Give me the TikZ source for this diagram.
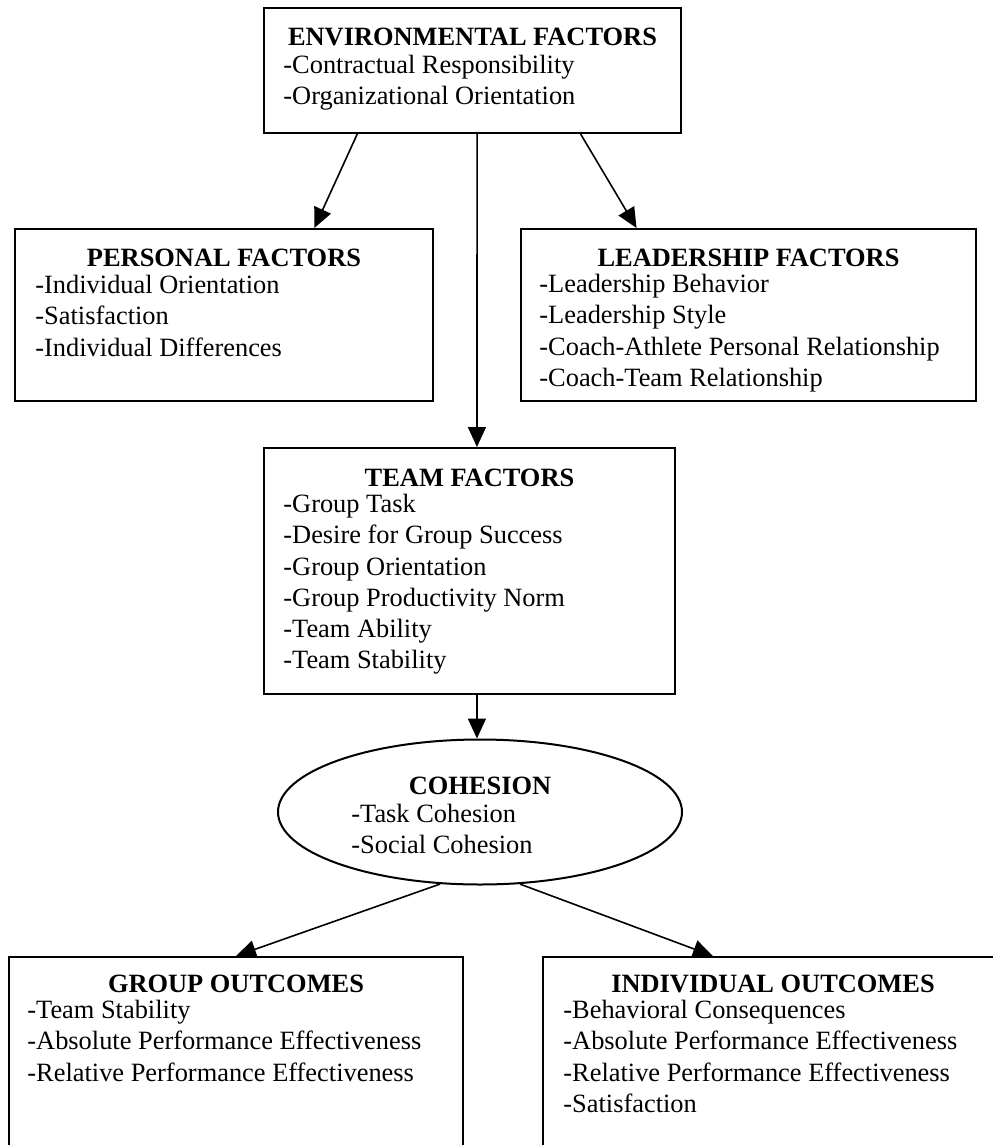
\documentclass[tikz,border=0pt]{standalone}
\usepackage{fontspec}
\setmainfont{Liberation Serif}
\usetikzlibrary{shapes.geometric,arrows.meta,calc}

\begin{document}
\begin{tikzpicture}[x=0.5pt,y=-0.5pt,
    font=\fontsize{13.2}{15.6}\selectfont,
    factor/.style={draw,line width=1pt,rectangle,anchor=north west,inner sep=0pt},
    heading/.style={font=\fontsize{13.2}{15.6}\selectfont\bfseries,anchor=base,inner sep=0pt},
    items/.style={align=left,anchor=north west,inner sep=0pt,execute at begin node=\strut},
    link/.style={-{Triangle[length=10pt,width=9pt]},line width=0.8pt}]
    \useasboundingbox (0,0) rectangle (992,1145);

    % boxes
    \node[factor,minimum width=208.5pt,minimum height=62.5pt] (env) at (263,7) {};
    \node[factor,minimum width=209pt,minimum height=86pt] (pers) at (14,228) {};
    \node[factor,minimum width=227.5pt,minimum height=86pt] (lead) at (520,228) {};
    \node[factor,minimum width=205.5pt,minimum height=123pt] (team) at (263,447) {};
    \node[draw,ellipse,line width=1pt,inner sep=0pt,
          minimum width=202pt,minimum height=72.5pt] (coh) at (480,812) {};
    \node[factor,minimum width=227pt,minimum height=110pt] (grp) at (8,956) {};
    \node[factor,minimum width=230pt,minimum height=110pt] (ind) at (542,956) {};

    % headings
    \node[heading] (envhead) at ($(env.north)+(0,39)$) {ENVIRONMENTAL FACTORS};
    \node[heading] (pershead) at ($(pers.north)+(0,38)$) {PERSONAL FACTORS};
    \node[heading] (leadhead) at ($(lead.north)+(0,38)$) {LEADERSHIP FACTORS};
    \node[heading] (teamhead) at ($(team.north)+(0,39)$) {TEAM FACTORS};
    \node[heading] (cohhead) at ($(coh.north)+(0,56)$) {COHESION};
    \node[heading] (grphead) at ($(grp.north)+(0,36)$) {GROUP OUTCOMES};
    \node[heading] (indhead) at ($(ind.north)+(0,36)$) {INDIVIDUAL OUTCOMES};

    % item lists
    \node[items] (envlist) at (283,55)
      {-Contractual Responsibility\\-Organizational Orientation};
    \node[items] (perslist) at (35,275)
      {-Individual Orientation\\-Satisfaction\\-Individual Differences};
    \node[items] (leadlist) at (539,274)
      {-Leadership Behavior\\-Leadership Style\\
       -Coach-Athlete Personal Relationship\\-Coach-Team Relationship};
    \node[items] (teamlist) at (283,494)
      {-Group Task\\-Desire for Group Success\\-Group Orientation\\
       -Group Productivity Norm\\-Team Ability\\-Team Stability};
    \node[items] (cohlist) at (351,804)
      {-Task Cohesion\\-Social Cohesion};
    \node[items] (grplist) at (27,1000)
      {-Team Stability\\-Absolute Performance Effectiveness\\
       -Relative Performance Effectiveness};
    \node[items] (indlist) at (563,1000)
      {-Behavioral Consequences\\-Absolute Performance Effectiveness\\
       -Relative Performance Effectiveness\\-Satisfaction};

    % connectors
    \draw[link] ($(env.south west)!.225!(env.south east)$) -- ($(pers.north west)!.715!(pers.north east)$);
    \draw[link] ($(env.south west)!.511!(env.south east)$) -- ($(team.north west)!.518!(team.north east)$);
    \draw[link] ($(env.south west)!.758!(env.south east)$) -- ($(lead.north west)!.255!(lead.north east)$);
    \coordinate (teamout) at ($(team.south west)!.518!(team.south east)$);
    \draw[link] (teamout) -- (teamout |- coh.north);
    \draw[link] (coh.241) -- ($(grp.north west)!.5!(grp.north east)$);
    \draw[link] (coh.299) -- ($(ind.north west)!.37!(ind.north east)$);
  \end{tikzpicture}
\end{document}
